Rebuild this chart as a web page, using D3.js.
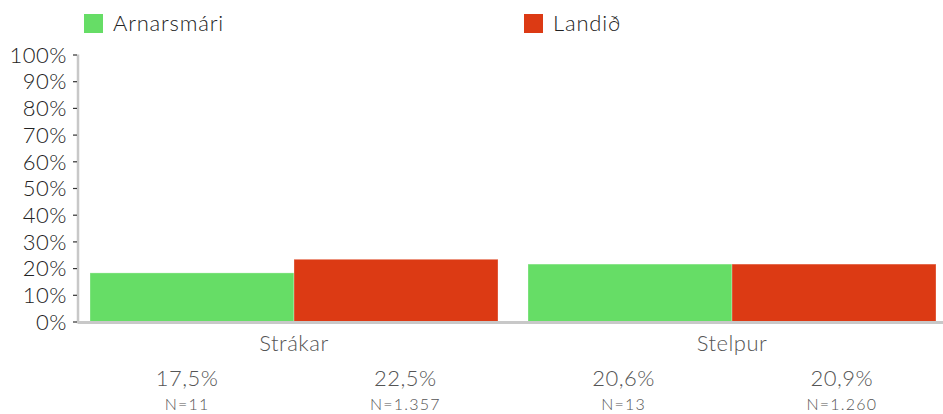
<!DOCTYPE html>
<html>
<head>
<meta charset="utf-8">
<script src="https://cdn.jsdelivr.net/npm/d3@7"></script>
<style>
  body { margin: 0; background: #fff; }
  svg { display: block; font-family: Lato, "Open Sans", sans-serif; }
  text { letter-spacing: 0.5px; }
</style>
</head>
<body>
<svg id="chart"></svg>
<script>
const groups = ["Strákar", "Stelpur"];
const series = ["Arnarsmári", "Landið"];
const colors = ["#66dd66", "#dc3a14"];
// bar heights as drawn (percent)
const barValues = [[18.2, 23.3], [21.5, 21.5]];
// printed values under the chart
const pctLabels = ["17,5%", "22,5%", "20,6%", "20,9%"];
const nLabels = ["N=11", "N=1.357", "N=13", "N=1.260"];
const yTicks = [0, 10, 20, 30, 40, 50, 60, 70, 80, 90, 100];

const W = 943, H = 414;
const margin = {top: 54.5, left: 78, bottom: 92.5};

const svg = d3.select("#chart").attr("width", W).attr("height", H);

const y = d3.scaleLinear().domain([0, 100]).range([H - margin.bottom, margin.top]);

const x0 = d3.scaleBand().domain(groups).range([75, 951])
    .paddingInner(30 / 438).paddingOuter(15 / 438);
const x1 = d3.scaleBand().domain(series).range([0, x0.bandwidth()]);

// legend
const legend = svg.append("g");
series.forEach((s, i) => {
    const lg = legend.append("g").attr("transform", `translate(${84 + i * 440}, 14)`);
    lg.append("rect").attr("width", 19).attr("height", 19).attr("fill", colors[i]);
    lg.append("text").attr("x", 29).attr("y", 17).attr("font-size", 22)
        .attr("font-weight", 300).attr("fill", "#222").style("letter-spacing", "0.8px").text(s);
});

// bars
const g = svg.append("g");
groups.forEach((grp, gi) => {
    g.selectAll(null)
        .data(barValues[gi])
        .join("rect")
        .attr("x", (d, i) => x0(grp) + x1(series[i]))
        .attr("y", d => y(d))
        .attr("width", x1.bandwidth())
        .attr("height", d => y(0) - y(d) + 0.5)
        .attr("fill", (d, i) => colors[i])
        .attr("stroke", "rgba(255,255,255,0.3)")
        .attr("stroke-width", 1);
});

// axis lines
svg.append("line")
    .attr("x1", margin.left).attr("x2", W)
    .attr("y1", y(0) + 1).attr("y2", y(0) + 1)
    .attr("stroke", "#c8c8c8").attr("stroke-width", 3);
svg.append("line")
    .attr("x1", margin.left).attr("x2", margin.left)
    .attr("y1", y(100)).attr("y2", y(0) + 2)
    .attr("stroke", "#c8c8c8").attr("stroke-width", 2.5);

// y axis ticks
const yAxis = svg.append("g").attr("transform", `translate(${margin.left - 1}, 0)`)
    .call(d3.axisLeft(y).tickValues(yTicks).tickFormat(d => d + "%").tickSize(4).tickPadding(6));
yAxis.select(".domain").remove();
yAxis.selectAll(".tick line").attr("stroke", "#333").attr("stroke-width", 1.2);
yAxis.selectAll(".tick text").attr("font-size", 22).attr("fill", "#222")
    .attr("font-family", "Lato, 'Open Sans', sans-serif").attr("font-weight", 300)
    .attr("dy", "0.35em");

// group labels
svg.selectAll(".grp")
    .data(groups)
    .join("text")
    .attr("class", "grp")
    .attr("x", d => x0(d) + x0.bandwidth() / 2)
    .attr("y", 351)
    .attr("text-anchor", "middle")
    .attr("font-size", 22)
    .attr("font-weight", 300)
    .attr("fill", "#555")
    .text(d => d);

// value labels, evenly spread
const xl = d3.scaleBand().domain(d3.range(pctLabels.length)).range([78, 951]);
svg.selectAll(".pct")
    .data(pctLabels)
    .join("text")
    .attr("class", "pct")
    .attr("x", (d, i) => xl(i) + xl.bandwidth() / 2)
    .attr("y", 386)
    .attr("text-anchor", "middle")
    .attr("font-size", 22)
    .attr("font-weight", 300)
    .attr("fill", "#555")
    .text(d => d);
svg.selectAll(".nl")
    .data(nLabels)
    .join("text")
    .attr("class", "nl")
    .attr("x", (d, i) => xl(i) + xl.bandwidth() / 2)
    .attr("y", 410)
    .attr("text-anchor", "middle")
    .attr("font-size", 16)
    .attr("font-weight", 300)
    .attr("fill", "#555")
    .style("letter-spacing", "1.2px")
    .text(d => d);
</script>
</body>
</html>
